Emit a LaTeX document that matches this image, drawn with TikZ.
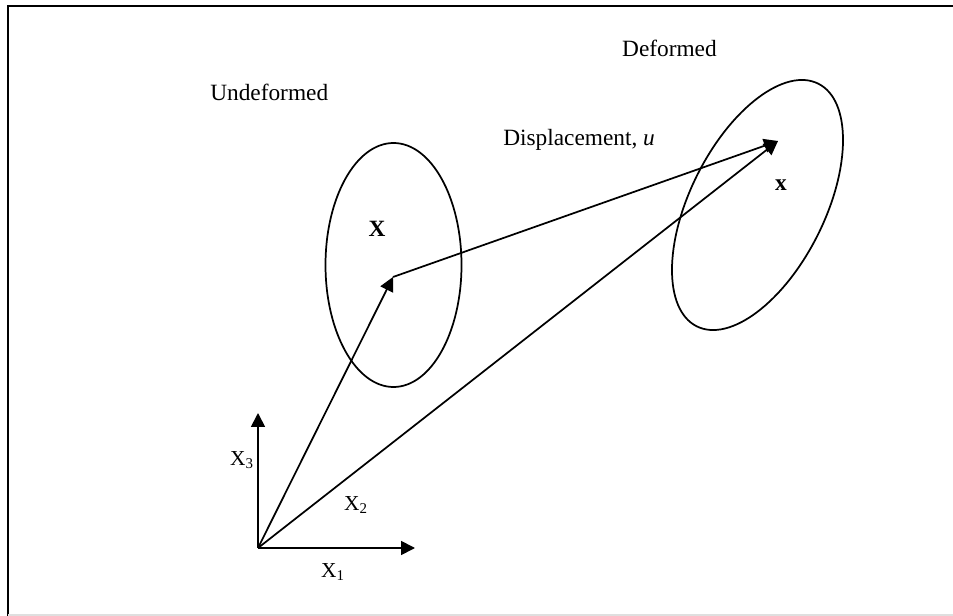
\documentclass[tikz,border=0pt]{standalone}
\usepackage{fontspec}
\setmainfont{Liberation Serif}
\usetikzlibrary{arrows.meta}
\begin{document}
\begin{tikzpicture}[x=0.75pt,y=-0.75pt,
  lab/.style={font=\fontsize{17.5}{20}\selectfont, inner sep=0pt},
  axlab/.style={font=\fontsize{16}{18}\selectfont, inner sep=0pt},
  vec/.style={line width=1.3pt,-{Triangle[length=10.5pt,width=10.5pt]}},
  outline/.style={line width=1.3pt}]
\useasboundingbox (0,0) rectangle (953,616);
\draw[line width=1.6pt] (953,5.8) -- (8,5.8) -- (8,616);
\draw[gray!25,line width=1.2pt] (8,615.2) -- (953,615.2);
% coordinates
\coordinate (O) at (258,548);
\coordinate (P) at (393,277);
\coordinate (Q) at (778,141);
\coordinate (E1) at (415,548);
\coordinate (E3) at (258,413);
% ellipses
\draw[outline] (393.5,265) ellipse [x radius=68, y radius=122];
\draw[outline] (757.5,205) ellipse [x radius=135.7, y radius=67.3, rotate=63.4];
% axes
\draw[vec] (O) -- (E1);
\draw[vec] (O) -- (E3);
% vectors
\draw[vec] (O) -- (P);
\draw[vec] (O) -- (Q);
\draw[vec] (P) -- (Q);
% labels
\node[lab, anchor=base west] (und) at (210,101) {Undeformed};
\node[lab, anchor=base east] (def) at (717,57) {Deformed};
\node[lab, anchor=base west] (disp) at (503,146) {Displacement, \textit{u}};
\node[lab] (Xl) at (377,229) {\textbf{X}};
\node[lab] (xl) at (781,185) {\textbf{x}};
\node[axlab] (x3) at (242,460) {X\textsubscript{3}};
\node[axlab] (x2) at (356,505) {X\textsubscript{2}};
\node[axlab] (x1) at (333,572) {X\textsubscript{1}};
\end{tikzpicture}
\end{document}
